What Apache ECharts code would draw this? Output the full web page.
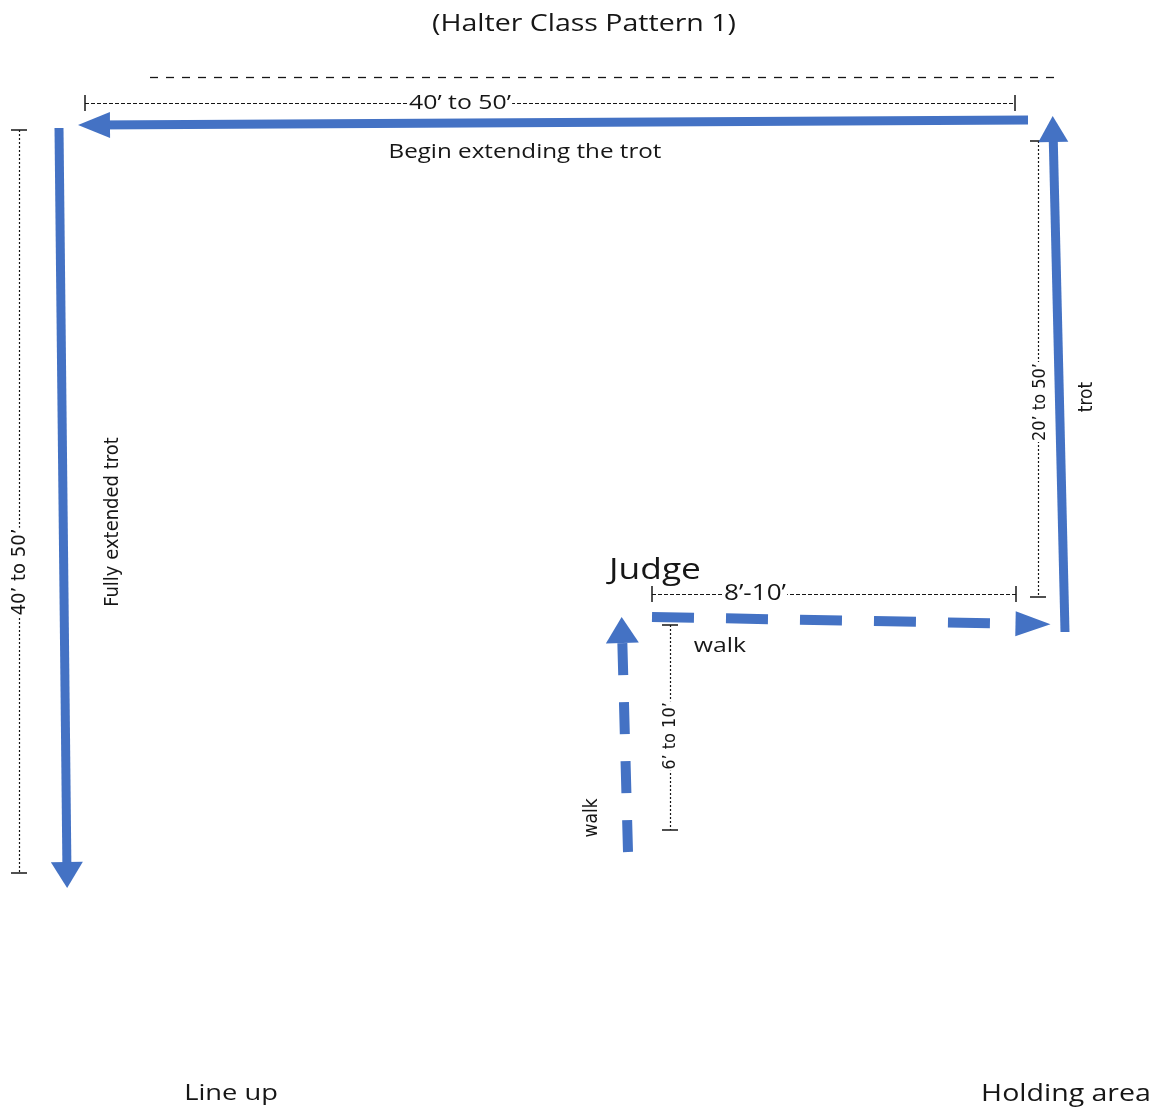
<!DOCTYPE html>
<html><head><meta charset="utf-8">
<script src="https://cdn.jsdelivr.net/npm/echarts@6/dist/echarts.min.js"></script>
<style>html,body{margin:0;padding:0;background:#fff}#c{width:1159px;height:1110px}</style>
</head><body><div id="c"></div>
<script>
// ---- data (diagram coordinates on a 1159 x 1110 plane, y grows downward) ----
const planeX = [0, 1159];
const planeY = [0, 1110];

// solid trot paths: [start, arrow-head centre]
const trotPaths = [
  [[1028, 120], [94, 125]],   // top: begin extending the trot
  [[1065, 632], [1053, 129]], // right: trot
  [[59, 128], [67, 875]]      // left: fully extended trot
];
// dashed walk paths
const walkPaths = [
  [[652, 617], [1033, 624]],  // walk toward trot corner
  [[628, 852], [622, 630]]    // walk up to judge
];
// dimension lines: from, to, label, label position
const dimFrom = [[85, 103], [19, 130], [1038, 141], [652, 594], [670, 625]];
const dimTo   = [[1015, 103], [19, 873], [1038, 597], [1016, 594], [670, 830]];
const dimText = ['40’ to 50’', '40’ to 50’', '20’ to 50’', '8’-10’', '6’ to 10’'];
const dimTextAt = [[460, 103], [20, 572], [1040, 402], [755, 594], [670, 736]];
// top reference dashed line
const refLine = [[150, 77], [1058, 77]];

// free labels
const noteText = ['(Halter Class Pattern 1)', 'Begin extending the trot', 'Fully extended trot', 'trot',
                  'Judge', 'walk', 'walk', 'Line up', 'Holding area'];
const noteAt = [[584, 24], [525, 152], [113, 522], [1087, 397], [655, 571], [720, 646], [592, 818], [231, 1094], [1066, 1094]];
const noteRot = [0, 0, 90, 90, 0, 0, 90, 0, 0];

// ---- styles ----
const BLUE = '#4472C4';
const INK = '#161616';
const headSize = [[26, 32], [30, 26], [32, 26], [25, 35], [33, 26]]; // [width, length]
const noteSize = [23, 19.5, 20, 19, 28.5, 20, 19, 22, 23];
const dimSize = [20, 20, 18, 21, 18];
const HSTRETCH = 1.24;
const horizFont = '"Open Sans", "Noto Sans", sans-serif';
const narrowFont = '"Liberation Sans Narrow", "DejaVu Sans Condensed", sans-serif';

const chart = echarts.init(document.getElementById('c'), null, {renderer: 'canvas'});

const arrowItems = trotPaths.map((p, i) => ({
  coords: p,
  symbol: ['none', 'triangle'],
  symbolSize: [1, headSize[i]],
  lineStyle: {color: BLUE, width: 9, opacity: 1, type: 'solid'}
}));
const walkItems = walkPaths.map((p, i) => ({
  coords: p,
  symbol: ['none', 'triangle'],
  symbolSize: [1, headSize[3 + i]],
  lineStyle: {color: BLUE, width: 10, opacity: 1, type: i === 0 ? [42, 32] : [32, 27]}
}));

const dimItems = [];
dimFrom.forEach((f, i) => {
  const t = dimTo[i];
  const horiz = f[1] === t[1];
  dimItems.push({coords: [f, t], lineStyle: {color: INK, width: 1.2, type: horiz ? [4, 2] : [2, 2], opacity: 1}});
  const tk = 8;
  [f, t].forEach(pt => {
    dimItems.push({coords: horiz ? [[pt[0], pt[1] - tk], [pt[0], pt[1] + tk]] : [[pt[0] - tk, pt[1]], [pt[0] + tk, pt[1]]],
      lineStyle: {color: INK, width: 1.5, type: 'solid', opacity: 1}});
  });
});
dimItems.push({coords: refLine, lineStyle: {color: INK, width: 1.3, type: [8, 8], opacity: 1}});

chart.setOption({
  animation: false,
  backgroundColor: '#fff',
  grid: {left: 0, right: 0, top: 0, bottom: 0},
  xAxis: {type: 'value', min: planeX[0], max: planeX[1], show: false},
  yAxis: {type: 'value', min: planeY[0], max: planeY[1], inverse: true, show: false},
  series: [
    {type: 'lines', coordinateSystem: 'cartesian2d', silent: true, z: 1, data: dimItems},
    {type: 'lines', coordinateSystem: 'cartesian2d', silent: true, z: 3, data: arrowItems.concat(walkItems),
     symbol: ['none', 'triangle'], itemStyle: {color: BLUE}}
  ]
});

// text placed through the grid's own scale
function textEl(str, at, rot, size, bg) {
  const p = chart.convertToPixel({gridIndex: 0}, at);
  return {
    type: 'text', x: p[0], y: p[1], z: 100, silent: true,
    rotation: rot * Math.PI / 180,
    scaleX: rot ? 1 : HSTRETCH,
    style: {
      text: str, fill: INK, fontSize: size,
      fontFamily: rot ? narrowFont : horizFont,
      align: 'center', verticalAlign: 'middle',
      backgroundColor: bg ? '#fff' : 'transparent', padding: bg ? [0, 1] : 0
    }
  };
}
const els = [];
dimText.forEach((t, i) => {
  const horiz = dimFrom[i][1] === dimTo[i][1];
  els.push(textEl(t, dimTextAt[i], horiz ? 0 : 90, dimSize[i], true));
});
noteText.forEach((t, i) => els.push(textEl(t, noteAt[i], noteRot[i], noteSize[i], false)));
chart.setOption({graphic: {elements: els}});
</script></body></html>
